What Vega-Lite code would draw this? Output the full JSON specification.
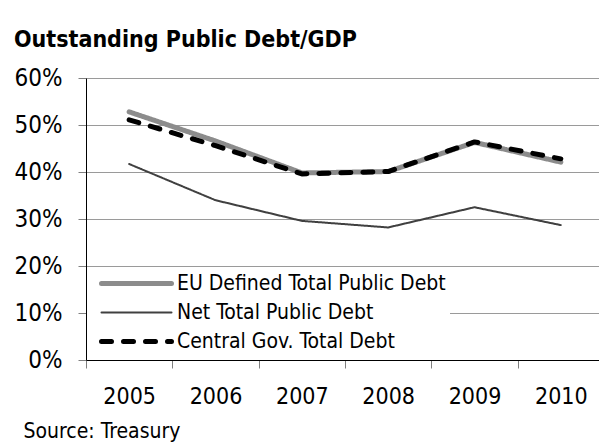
{
  "$schema": "https://vega.github.io/schema/vega-lite/v6.json",
  "width": 513,
  "height": 282,
  "autosize": {"type": "none"},
  "padding": {"left": 86, "top": 78, "right": 0, "bottom": 83},
  "background": "white",
  "title": {
    "text": "Outstanding Public Debt/GDP",
    "anchor": "start",
    "frame": "group",
    "dx": -72,
    "offset": 14,
    "font": "DejaVu Sans Condensed",
    "fontSize": 23,
    "fontWeight": "bold",
    "color": "#000000"
  },
  "config": {
    "view": {"stroke": null},
    "font": "DejaVu Sans Condensed",
    "axis": {
      "labelFont": "DejaVu Sans Condensed",
      "labelColor": "#000000",
      "domainColor": "#000000",
      "domainWidth": 1,
      "tickColor": "#7f7f7f",
      "tickSize": 8,
      "gridColor": "#9a9a9a",
      "gridWidth": 1
    }
  },
  "data": {
    "values": [
      {"year": "2005", "series": "EU Defined Total Public Debt", "value": 0.528},
      {"year": "2006", "series": "EU Defined Total Public Debt", "value": 0.466},
      {"year": "2007", "series": "EU Defined Total Public Debt", "value": 0.398},
      {"year": "2008", "series": "EU Defined Total Public Debt", "value": 0.401},
      {"year": "2009", "series": "EU Defined Total Public Debt", "value": 0.463},
      {"year": "2010", "series": "EU Defined Total Public Debt", "value": 0.421},
      {"year": "2005", "series": "Net Total Public Debt", "value": 0.417},
      {"year": "2006", "series": "Net Total Public Debt", "value": 0.340},
      {"year": "2007", "series": "Net Total Public Debt", "value": 0.296},
      {"year": "2008", "series": "Net Total Public Debt", "value": 0.282},
      {"year": "2009", "series": "Net Total Public Debt", "value": 0.325},
      {"year": "2010", "series": "Net Total Public Debt", "value": 0.287},
      {"year": "2005", "series": "Central Gov. Total Debt", "value": 0.511},
      {"year": "2006", "series": "Central Gov. Total Debt", "value": 0.456},
      {"year": "2007", "series": "Central Gov. Total Debt", "value": 0.396},
      {"year": "2008", "series": "Central Gov. Total Debt", "value": 0.401},
      {"year": "2009", "series": "Central Gov. Total Debt", "value": 0.464},
      {"year": "2010", "series": "Central Gov. Total Debt", "value": 0.428}
    ]
  },
  "mark": {"type": "line", "strokeCap": "round", "strokeJoin": "round"},
  "encoding": {
    "x": {
      "field": "year",
      "type": "ordinal",
      "scale": {"type": "band", "paddingInner": 0, "paddingOuter": 0, "range": [0, 518]},
      "axis": {
        "title": "Source: Treasury",
        "titleX": -63,
        "titleY": 77,
        "titleAlign": "left",
        "titleAnchor": null,
        "titleBaseline": "alphabetic",
        "titleFont": "DejaVu Sans Condensed",
        "titleFontSize": 21,
        "titleFontWeight": "normal",
        "titleColor": "#000000",
        "titleLimit": 1000,
        "labelAngle": 0,
        "labelFontSize": 23,
        "labelPadding": 17,
        "tickBand": "extent",
        "grid": false
      }
    },
    "y": {
      "field": "value",
      "type": "quantitative",
      "scale": {"domain": [0, 0.6], "nice": false, "zero": true},
      "axis": {
        "title": null,
        "format": ".0%",
        "values": [0, 0.1, 0.2, 0.3, 0.4, 0.5, 0.6],
        "labelFontSize": 24,
        "labelPadding": 16,
        "grid": true
      }
    },
    "color": {
      "field": "series",
      "type": "nominal",
      "sort": ["EU Defined Total Public Debt", "Net Total Public Debt", "Central Gov. Total Debt"],
      "scale": {
        "domain": ["EU Defined Total Public Debt", "Net Total Public Debt", "Central Gov. Total Debt"],
        "range": ["#8c8c8c", "#404040", "#000000"]
      },
      "legend": {
        "title": null,
        "orient": "none",
        "legendX": 1,
        "legendY": 191,
        "direction": "vertical",
        "fillColor": "white",
        "padding": 4,
        "symbolType": "M0,0L10,0",
        "symbolSize": 196,
        "labelFont": "DejaVu Sans Condensed",
        "labelFontSize": 21,
        "labelColor": "#000000",
        "labelOffset": 65,
        "labelLimit": 1000,
        "rowPadding": 7,
        "offset": 0,
        "encode": {"symbols": {"update": {"strokeCap": {"value": "round"}}}}
      }
    },
    "strokeWidth": {
      "field": "series",
      "type": "nominal",
      "sort": ["EU Defined Total Public Debt", "Net Total Public Debt", "Central Gov. Total Debt"],
      "scale": {
        "type": "ordinal",
        "domain": ["EU Defined Total Public Debt", "Net Total Public Debt", "Central Gov. Total Debt"],
        "range": [5, 2, 5]
      }
    },
    "strokeDash": {
      "field": "series",
      "type": "nominal",
      "sort": ["EU Defined Total Public Debt", "Net Total Public Debt", "Central Gov. Total Debt"],
      "scale": {
        "domain": ["EU Defined Total Public Debt", "Net Total Public Debt", "Central Gov. Total Debt"],
        "range": [[1, 0], [1, 0], [10, 12]]
      }
    }
  }
}
